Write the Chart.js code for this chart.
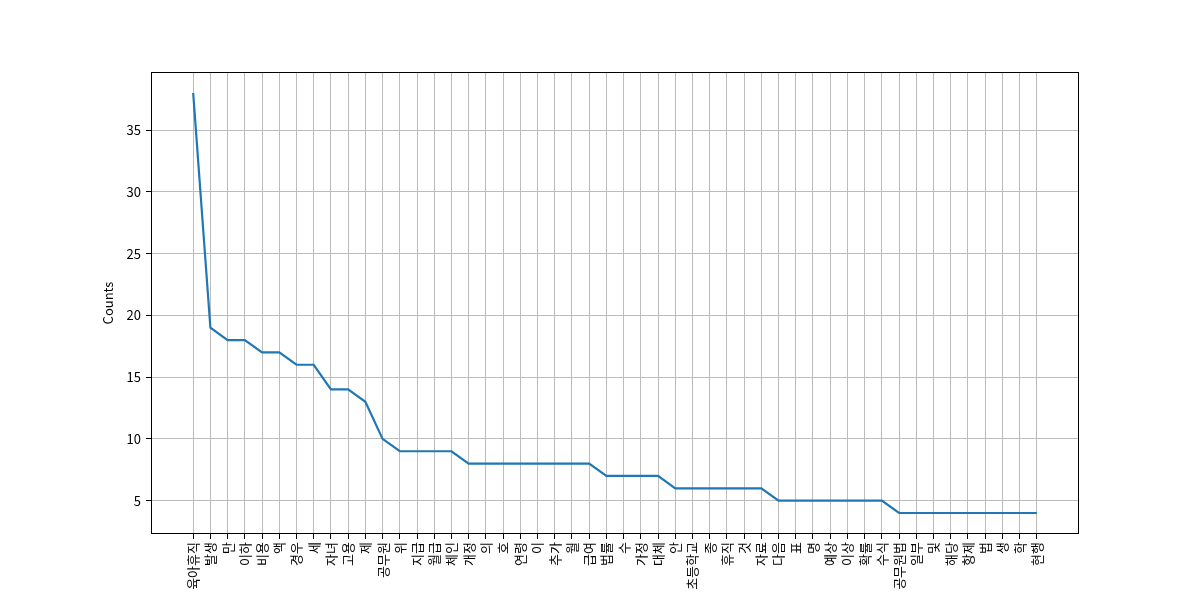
<!DOCTYPE html>
<html>
<head>
<meta charset="utf-8">
<script src="https://cdn.jsdelivr.net/npm/chart.js@4"></script>
<style>
  html, body { margin: 0; padding: 0; background: #fff; }
  #wrap { width: 1200px; height: 600px; }
</style>
</head>
<body>
<div id="wrap"><canvas id="myChart"></canvas></div>
<script>
// 단어 빈도 (상위 50개)
const words = ['육아휴직', '발생', '만', '이하', '비용', '액', '경우', '세', '자녀', '고용',
  '제', '공무원', '위', '지급', '월급', '체인', '개정', '의', '호', '연령',
  '이', '추가', '월', '급여', '법률', '수', '가정', '대체', '안', '초등학교',
  '종', '휴직', '것', '자료', '다음', '표', '명', '예상', '이상', '확률',
  '수식', '공무원법', '일부', '및', '해당', '항제', '법', '생', '학', '현행'];
const counts = [38, 19, 18, 18, 17, 17, 16, 16, 14, 14,
  13, 10, 9, 9, 9, 9, 8, 8, 8, 8,
  8, 8, 8, 8, 7, 7, 7, 7, 6, 6,
  6, 6, 6, 6, 5, 5, 5, 5, 5, 5,
  5, 4, 4, 4, 4, 4, 4, 4, 4, 4];
const yTicks = [5, 10, 15, 20, 25, 30, 35];

const FONT = 'Noto Sans CJK KR';

// 축 테두리 (matplotlib 스타일 박스)
const frame = {
  id: 'frame',
  afterDraw(chart) {
    const a = chart.chartArea;
    const c = chart.ctx;
    c.save();
    c.strokeStyle = '#000';
    c.lineWidth = 1;
    c.strokeRect(a.left + 0.5, a.top + 0.5, a.right - a.left - 1, a.bottom - a.top - 1);
    c.restore();
  }
};

function gerarGrafico() {
  const ctx = document.getElementById('myChart').getContext('2d');
  const n = words.length;
  const pad = (n - 1) * 0.05;
  const lo = Math.min(...counts), hi = Math.max(...counts);
  const ypad = (hi - lo) * 0.05;

  new Chart(ctx, {
    type: 'line',
    data: {
      datasets: [{
        data: counts.map((v, i) => ({ x: i, y: v })),
        borderColor: '#1f77b4',
        borderWidth: 2.2,
        pointRadius: 0,
        tension: 0,
        fill: false
      }]
    },
    options: {
      responsive: true,
      maintainAspectRatio: false,
      animation: false,
      layout: { padding: { left: 100, right: 121, top: 72, bottom: 0 } },
      plugins: { legend: { display: false }, tooltip: { enabled: false } },
      scales: {
        x: {
          type: 'linear',
          min: -pad,
          max: n - 1 + pad,
          afterBuildTicks: axis => { axis.ticks = words.map((_, i) => ({ value: i })); },
          afterFit: axis => { axis.height = 66; },
          grid: { color: '#bcbcbc', lineWidth: 1, tickColor: '#000', tickLength: 5 },
          border: { display: false },
          ticks: {
            autoSkip: false,
            minRotation: 90,
            maxRotation: 90,
            padding: 3,
            color: '#000',
            font: { family: FONT, size: 13 },
            callback: v => words[v]
          }
        },
        y: {
          min: lo - ypad,
          max: hi + ypad,
          afterBuildTicks: axis => { axis.ticks = yTicks.map(v => ({ value: v })); },
          afterFit: axis => { axis.width = 51; },
          grid: { color: '#bcbcbc', lineWidth: 1, tickColor: '#000', tickLength: 5 },
          border: { display: false },
          title: {
            display: true,
            text: 'Counts',
            color: '#000',
            font: { family: FONT, size: 13 },
            padding: { top: 0, bottom: 0 }
          },
          ticks: {
            padding: 5,
            color: '#000',
            font: { family: FONT, size: 13 }
          }
        }
      }
    },
    plugins: [frame]
  });
}

gerarGrafico();
</script>
</body>
</html>
